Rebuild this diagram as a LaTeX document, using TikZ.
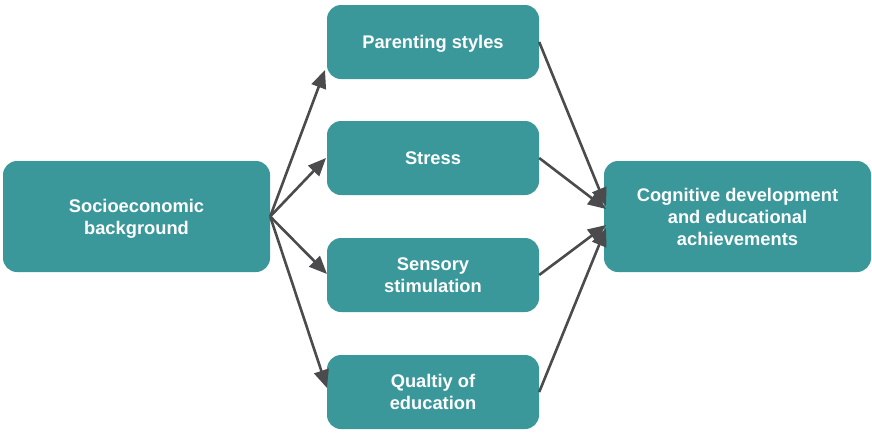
\documentclass[tikz,border=0pt]{standalone}
\usepackage{fontspec}
\setmainfont{Liberation Sans}
\usetikzlibrary{arrows.meta}
\definecolor{tealbox}{HTML}{3A989B}
\definecolor{arrowgray}{HTML}{4B4B4D}
\begin{document}
\begin{tikzpicture}[x=1pt,y=-1pt,
  box/.style={fill=tealbox, rounded corners=14pt, align=center, text=white,
    font=\bfseries\fontsize{18.3}{22}\selectfont, inner sep=0pt, text depth=0pt},
  bigbox/.style={box, minimum width=267pt, minimum height=111pt},
  midbox/.style={box, minimum width=212pt, minimum height=74pt},
  arr/.style={draw=arrowgray, line width=2.6pt,
    -{Triangle[length=18pt,width=15pt]}}]
  \useasboundingbox (0,0) rectangle (872,432);

  % arrow end points on the boxes' sides
  \coordinate (tP) at (325,70);
  \coordinate (tS) at (326,158);
  \coordinate (tN) at (327,274);
  \coordinate (tQ) at (327,388);
  \coordinate (rP) at (606,206);
  \coordinate (rS) at (606,209);
  \coordinate (rN) at (606,225);
  \coordinate (rQ) at (606,228);

  \node[bigbox] (L) at (136.5,216.5) {Socioeconomic\\background};
  \node[midbox] (P) at (433,42) {Parenting styles};
  \node[midbox] (S) at (433,158) {Stress};
  \node[midbox] (N) at (433,275) {Sensory\\stimulation};
  \node[midbox] (Q) at (433,392) {Qualtiy of\\education};
  \node[bigbox] (R) at (737.5,216.5) {Cognitive development\\and educational\\achievements};

  \draw[arr] (L.east) -- (tP);
  \draw[arr] (L.east) -- (tS);
  \draw[arr] (L.east) -- (tN);
  \draw[arr] (L.east) -- (tQ);

  \draw[arr] (P.east) -- (rP);
  \draw[arr] (S.east) -- (rS);
  \draw[arr] (N.east) -- (rN);
  \draw[arr] (Q.east) -- (rQ);
\end{tikzpicture}
\end{document}
